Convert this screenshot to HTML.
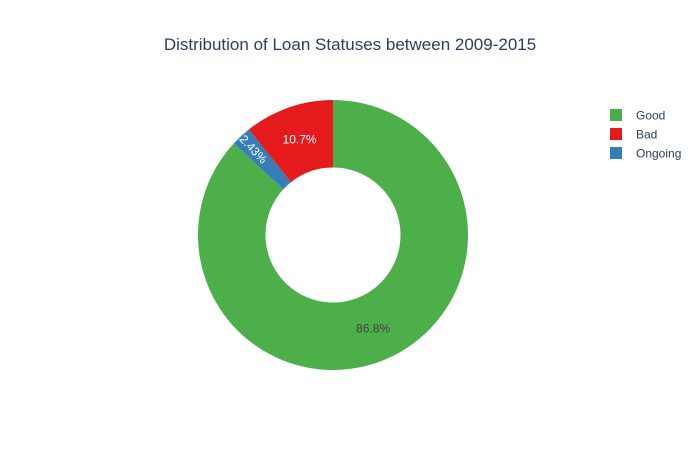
<!DOCTYPE html>
<html><head><meta charset="utf-8"><style>
body{margin:0;background:#fff;font-family:"Liberation Sans",Arial,sans-serif}
</style></head><body>
<svg id="c" width="700" height="450" xmlns="http://www.w3.org/2000/svg">
<text x="350" y="50" text-anchor="middle" font-size="17" fill="#2a3f5f">Distribution of Loan Statuses between 2009-2015</text>
<g id="pie"></g>
<g id="legend"></g>
</svg>
<script>
const labels = ["Good", "Ongoing", "Bad"];
const values = [86.8, 2.43, 10.7];
const legendOrder = ["Good", "Bad", "Ongoing"];
const colors = {Good:"#4daf4a", Bad:"#e41a1c", Ongoing:"#377eb8"};
const textLabels = {Good:"86.8%", Bad:"10.7%", Ongoing:"2.43%"};
const cx=333, cy=235, R=135, r=67.5, NS="http://www.w3.org/2000/svg";
const pie=document.getElementById('pie');
const total=values.reduce((a,b)=>a+b,0);
function pt(a,rad){return [cx+rad*Math.sin(a), cy-rad*Math.cos(a)];}
let start=0;
labels.forEach((lab,i)=>{
  const sweep=values[i]/total*2*Math.PI, end=start+sweep;
  const [x1,y1]=pt(start,R),[x2,y2]=pt(end,R),[x3,y3]=pt(end,r),[x4,y4]=pt(start,r);
  const large=sweep>Math.PI?1:0;
  const p=document.createElementNS(NS,'path');
  p.setAttribute('d',`M${x1},${y1}A${R},${R} 0 ${large} 1 ${x2},${y2}L${x3},${y3}A${r},${r} 0 ${large} 0 ${x4},${y4}Z`);
  p.setAttribute('fill',colors[lab]);
  
  
  pie.appendChild(p);
  const mid=(start+end)/2;
  let [tx,ty]=pt(mid,(R+r)/2);
  const t=document.createElementNS(NS,'text');
  t.setAttribute('font-size','12');t.setAttribute('text-anchor','middle');
  t.setAttribute('fill', lab==="Good"?"#444":"#fff");
  if(lab==="Good"){[tx,ty]=pt(mid,R*0.74);ty+=2;}
  if(sweep<0.3){[tx,ty]=pt(mid,117);}
  t.setAttribute('x',tx);t.setAttribute('y',ty+4);
  if(sweep<0.3){const deg=mid*180/Math.PI-270;t.setAttribute('transform',`rotate(${deg} ${tx} ${ty})`);}
  t.textContent=textLabels[lab];
  
  
  pie.appendChild(t);
  start=end;
});
const lg=document.getElementById('legend');
legendOrder.forEach((lab,i)=>{
  const g=document.createElementNS(NS,'g');
  
  
  const y=115+i*19;
  const s=document.createElementNS(NS,'rect');
  s.setAttribute('x',610);s.setAttribute('y',y-6);s.setAttribute('width',12);s.setAttribute('height',12);s.setAttribute('fill',colors[lab]);
  const t=document.createElementNS(NS,'text');
  t.setAttribute('x',636);t.setAttribute('y',y+4.5);t.setAttribute('font-size','12');t.setAttribute('fill','#2a3f5f');
  t.textContent=lab;
  g.appendChild(s);g.appendChild(t);lg.appendChild(g);
});
</script>
</body></html>
